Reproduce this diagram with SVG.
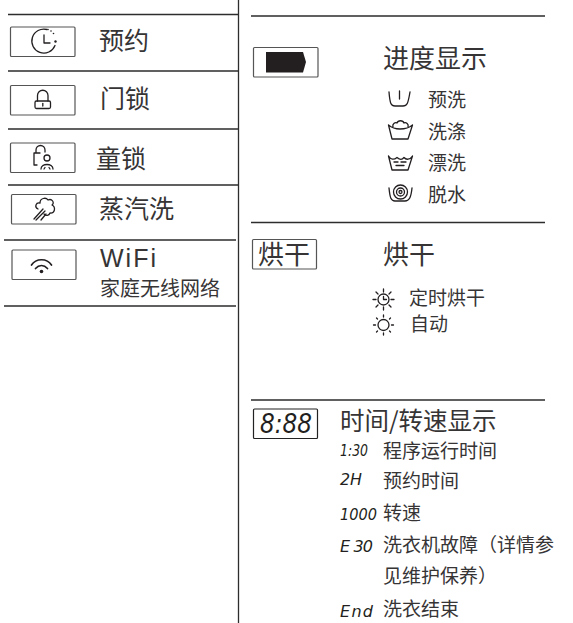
<svg xmlns="http://www.w3.org/2000/svg" width="573" height="623" viewBox="0 0 573 623">
<style>
text{font-family:"Noto Sans CJK SC","Liberation Sans",sans-serif;fill:#363435}
.h{font-size:25px}
.s{font-size:19px}
.c{font-family:"DejaVu Sans","Liberation Sans",sans-serif;font-style:italic;font-weight:200;font-size:16px;fill:#231f20}
.ln{stroke:#2e2c2d;stroke-width:1.3;fill:none}
.b{fill:#fff;stroke:#555;stroke-width:1.2}
.i{fill:none;stroke:#231f20;stroke-width:1.3;stroke-linecap:round;stroke-linejoin:round}
.f{fill:#231f20;stroke:none}
</style>
<rect width="573" height="623" fill="#fff"/>
<g id="connectors">
<path class="ln" d="M238.500 0V623"/>
<path class="ln" d="M8 14.500H239M8 71H239M8 129H239M8 185H239M4 240H236M4 306H236"/>
<path class="ln" d="M251 16H545M251 222.500H545M251 400H545"/>
</g>
<g id="node-yuyue">
<rect class="b" x="10.500" y="27" width="64.500" height="29.500" rx="1"/>
<path class="i" d="M47 29.500A12 12 0 1 0 55 45.500"/>
<path class="i" d="M44 35V43H50"/>
<circle class="f" cx="48" cy="29.500" r=".8"/><circle class="f" cx="51" cy="31" r=".8"/><circle class="f" cx="53.500" cy="33.500" r=".8"/><circle class="f" cx="55.500" cy="41.500" r="1.200"/>
<text class="h" x="99" y="50">预约</text>
</g>
<g id="node-menlock">
<rect class="b" x="10.500" y="85.500" width="64.500" height="29.500" rx="1"/>
<rect class="i" x="35" y="101" width="15.500" height="7.500" rx="1.500"/>
<path class="i" d="M37.500 101V95.500A5 5 0 0 1 48 95.500V101"/>
<path class="i" d="M42.800 103.500V106"/>
<text class="h" x="100" y="108">门锁</text>
</g>
<g id="node-childlock">
<rect class="b" x="10.500" y="143" width="64.500" height="29.500" rx="1"/>
<path class="i" d="M36 152V150A4.500 4.500 0 0 1 45 150V152M34 153H40M34 153V165H37"/>
<circle class="i" cx="47" cy="158" r="3"/>
<path class="i" d="M41 169C41 163 53 163 53 169M45 167.500L44 169M49 167.500L50 169"/>
<text class="h" x="96" y="168">童锁</text>
</g>
<g id="node-steam">
<rect class="b" x="11.500" y="194.500" width="64.500" height="29.500" rx="1"/>
<path class="i" d="M38 209C34 207 36 202 40 203C40 198 46 197 48 200C52 198 55 203 52 205C56 207 55 214 50 213C49 216 46 216 44 214"/>
<path class="i" d="M43 209L34 219M45 211L36 220M46 214L41 220"/>
<text class="h" x="99" y="218">蒸汽洗</text>
</g>
<g id="node-wifi">
<rect class="b" x="12" y="250" width="64" height="29.500" rx="1"/>
<path class="i" style="stroke-width:1.700" d="M31.500 265C36 258 47 258 51.500 265M35.500 268.500C39 264.500 44 264.500 47.500 268.500"/>
<circle class="f" cx="41.500" cy="271.500" r="1.800"/>
<text x="100" y="267" style="font-family:'Liberation Sans',sans-serif;font-size:25px;letter-spacing:2px">WiFi</text>
<text x="100" y="295.500" font-size="20">家庭无线网络</text>
</g>
<g id="node-progress">
<rect class="b" x="253.500" y="47.500" width="64.500" height="29.500" rx="1"/>
<path class="f" d="M266 52H303L306 62L303 72.500H266Z"/>
<text class="h" x="383" y="68" style="font-size:26px">进度显示</text>
<path class="i" d="M389 92C390 104 391 106 395 106H403C407 106 408 104 410 92M399.500 91V99"/>
<text class="s" x="428" y="107">预洗</text>
<path class="i" d="M388.500 125L392 139H408L412.500 125M388.500 125C392 128 395 129 400 129C405 129 409 128 412.500 125M393 127C392 124 395 122 397 123C398 120 403 120 404 123C406 122 409 124 408 127"/>
<text class="s" x="428" y="139">洗涤</text>
<path class="i" d="M388.500 156L392 170H408L412.500 156M388.500 156C391 160 394 160 397 157.500C400 160 402 160 404 157.500C406 160 410 160 412.500 156M394 162H398M401 162H406M396 165.500H404"/>
<text class="s" x="428" y="170">漂洗</text>
<path class="i" d="M389 188C390 198 391 201 395 201H405C409 201 411 198 412 188"/>
<circle class="i" cx="400.500" cy="192" r="7"/><circle class="i" cx="400.500" cy="192" r="4"/><circle class="i" cx="400.500" cy="192" r="1.500"/>
<text class="s" x="428" y="202">脱水</text>
</g>
<g id="node-dry">
<rect class="b" x="252.500" y="239.500" width="64" height="29.500" rx="1"/>
<text x="258" y="264" style="font-size:26px">烘干</text>
<text class="h" x="383" y="264" style="font-size:26px">烘干</text>
<circle class="i" cx="383.500" cy="299.500" r="5.500"/>
<path class="i" d="M383.500 296.500V299.500H386.500M383.500 289V292M383.500 307V310M373 299.500H376M391 299.500H394M376 292L378 294M389 305L391 307M391 292L389 294M378 305L376 307"/>
<text class="s" x="409" y="305">定时烘干</text>
<circle class="i" cx="383.500" cy="325" r="5.500"/>
<path class="i" d="M383.500 315V317M383.500 333V335M373.500 325H375.500M391.500 325H393.500M376.500 318L377.500 319M389.500 331L390.500 332M390.500 318L389.500 319M377.500 331L376.500 332"/>
<text class="s" x="410" y="331">自动</text>
</g>
<g id="node-time">
<rect class="b" x="253.500" y="409" width="64" height="29.500" style="stroke:#222" rx="1"/>
<text class="c" x="260" y="433" textLength="52" lengthAdjust="spacingAndGlyphs" style="font-size:27px;font-weight:400">8:88</text>
<text x="340" y="430" style="font-size:24.500px">时间/转速显示</text>
<text class="c" x="340" y="456" textLength="28" lengthAdjust="spacingAndGlyphs">1:30</text>
<text class="s" x="383" y="458">程序运行时间</text>
<text class="c" x="340" y="485" textLength="22" lengthAdjust="spacingAndGlyphs">2H</text>
<text class="s" x="383" y="488">预约时间</text>
<text class="c" x="340" y="520" textLength="37" lengthAdjust="spacingAndGlyphs">1000</text>
<text class="s" x="383" y="520">转速</text>
<text class="c" x="340" y="552" textLength="33" lengthAdjust="spacing">E 30</text>
<text class="s" x="383" y="552">洗衣机故障（详情参</text>
<text class="s" x="383" y="583">见维护保养）</text>
<text class="c" x="340" y="617" textLength="33" lengthAdjust="spacing">End</text>
<text class="s" x="383" y="616">洗衣结束</text>
</g>
</svg>
